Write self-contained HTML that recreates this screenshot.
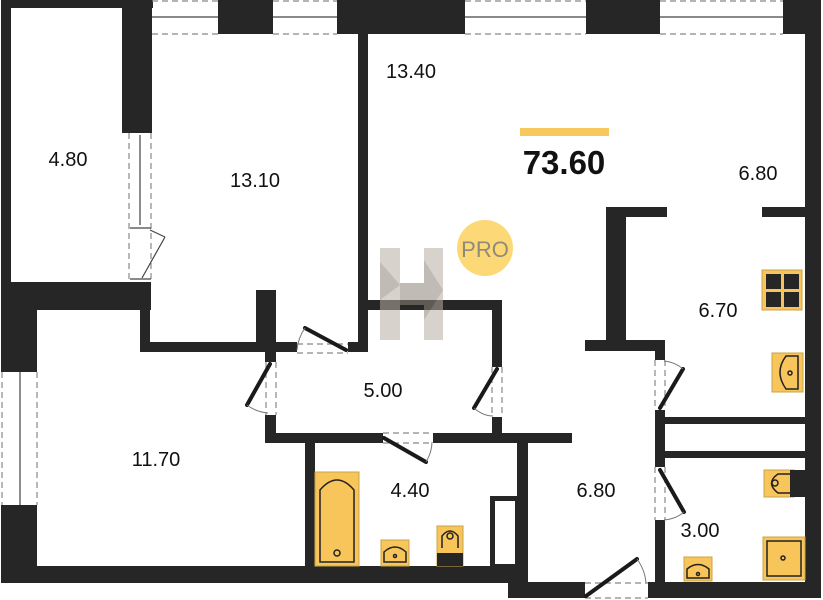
<!DOCTYPE html>
<html><head><meta charset="utf-8"><style>
html,body{margin:0;padding:0;background:#fff;width:823px;height:600px;overflow:hidden}
svg{display:block}
text{font-family:"Liberation Sans","DejaVu Sans",sans-serif;fill:#111}
</style></head><body>
<svg width="823" height="600" viewBox="0 0 823 600" xmlns="http://www.w3.org/2000/svg">
<g fill="#262626">
<rect x="1" y="0" width="10" height="300"/>
<rect x="1" y="0" width="152" height="8"/>
<rect x="122" y="0" width="30" height="133"/>
<rect x="1" y="282" width="150" height="28"/>
<rect x="218" y="0" width="55" height="34"/>
<rect x="337" y="0" width="128" height="34"/>
<rect x="586" y="0" width="74" height="34"/>
<rect x="783" y="0" width="38" height="34"/>
<rect x="805" y="0" width="16" height="598"/>
<rect x="358" y="34" width="10" height="318"/>
<rect x="140" y="290" width="10" height="62"/>
<rect x="140" y="342" width="157" height="10"/>
<rect x="256" y="290" width="20" height="55"/>
<rect x="348" y="342" width="20" height="10"/>
<rect x="1" y="290" width="36" height="82"/>
<rect x="1" y="505" width="36" height="78"/>
<rect x="1" y="566" width="519" height="17"/>
<rect x="265" y="352" width="11" height="10"/>
<rect x="265" y="415" width="11" height="28"/>
<rect x="265" y="433" width="118" height="10"/>
<rect x="433" y="433" width="139" height="10"/>
<rect x="368" y="300" width="134" height="10"/>
<rect x="492" y="300" width="10" height="67"/>
<rect x="492" y="417" width="10" height="26"/>
<rect x="305" y="443" width="10" height="123"/>
<rect x="517" y="443" width="11" height="140"/>
<rect x="508" y="582" width="77" height="16"/>
<rect x="648" y="582" width="173" height="16"/>
<rect x="606" y="207" width="61" height="10"/>
<rect x="762" y="207" width="43" height="10"/>
<rect x="606" y="207" width="20" height="135"/>
<rect x="585" y="340" width="80" height="11"/>
<rect x="655" y="340" width="10" height="20"/>
<rect x="655" y="410" width="10" height="57"/>
<rect x="655" y="520" width="10" height="62"/>
<rect x="665" y="417" width="140" height="7"/>
<rect x="665" y="451" width="140" height="7"/>
</g>
<rect x="492.5" y="498.5" width="25" height="68" fill="none" stroke="#262626" stroke-width="5"/>
<g fill="none" stroke="#888" stroke-width="1.2" stroke-dasharray="6,4">
<line x1="152" y1="1" x2="218" y2="1"/><line x1="152" y1="34" x2="218" y2="34"/>
<line x1="273" y1="1" x2="337" y2="1"/><line x1="273" y1="34" x2="337" y2="34"/>
<line x1="465" y1="1" x2="586" y2="1"/><line x1="465" y1="34" x2="586" y2="34"/>
<line x1="660" y1="1" x2="783" y2="1"/><line x1="660" y1="34" x2="783" y2="34"/>
<line x1="129" y1="133" x2="129" y2="282"/><line x1="151" y1="133" x2="151" y2="282"/>
<line x1="2" y1="372" x2="2" y2="505"/><line x1="37" y1="372" x2="37" y2="505"/>
<line x1="297" y1="344" x2="348" y2="344"/><line x1="297" y1="353" x2="348" y2="353"/>
<line x1="266" y1="362" x2="266" y2="415"/><line x1="276" y1="362" x2="276" y2="415"/>
<line x1="383" y1="433" x2="433" y2="433"/><line x1="383" y1="443" x2="433" y2="443"/>
<line x1="492" y1="367" x2="492" y2="417"/><line x1="502" y1="367" x2="502" y2="417"/>
<line x1="655" y1="360" x2="655" y2="410"/><line x1="665" y1="360" x2="665" y2="410"/>
<line x1="655" y1="467" x2="655" y2="520"/><line x1="665" y1="467" x2="665" y2="520"/>
<line x1="585" y1="583" x2="648" y2="583"/><line x1="585" y1="598" x2="648" y2="598"/>
</g>
<g stroke="#444" stroke-width="1.2">
<line x1="152" y1="17" x2="218" y2="17"/><line x1="273" y1="17" x2="337" y2="17"/>
<line x1="465" y1="17" x2="586" y2="17"/><line x1="660" y1="17" x2="783" y2="17"/>
<line x1="140" y1="135" x2="140" y2="225"/><line x1="20" y1="372" x2="20" y2="505"/>
<line x1="130" y1="228" x2="151" y2="228"/><line x1="130" y1="279" x2="151" y2="279"/>
<line x1="150" y1="230" x2="165" y2="237"/><line x1="165" y1="237" x2="142" y2="278"/>
</g>
<g stroke="#1a1a1a" stroke-width="4" stroke-linecap="round">
<line x1="346" y1="350" x2="305" y2="328"/>
<line x1="270" y1="364" x2="247" y2="405"/>
<line x1="384" y1="438" x2="426" y2="462"/>
<line x1="497" y1="369" x2="474" y2="408"/>
<line x1="660" y1="408" x2="683" y2="369"/>
<line x1="660" y1="470" x2="684" y2="512"/>
<line x1="586" y1="596" x2="637" y2="559"/>
</g>
<g fill="none" stroke="#777" stroke-width="1">
<path d="M305 328 Q298 338 297 350"/>
<path d="M247 405 Q256 412 268 413"/>
<path d="M426 462 Q432 452 432 442"/>
<path d="M474 408 Q483 416 493 416"/>
<path d="M683 369 Q675 362 664 361"/>
<path d="M684 512 Q676 519 664 520"/>
<path d="M637 559 Q645 570 646 583"/>
</g>
<g fill="#f8c55a" stroke="#c9a44a" stroke-width="1">
<rect x="315" y="472" width="44" height="94"/>
<rect x="381" y="540" width="28" height="26"/>
<rect x="437" y="526" width="26" height="40"/>
<rect x="762" y="270" width="40" height="40"/>
<rect x="772" y="353" width="31" height="39"/>
<rect x="764" y="470" width="30" height="27"/>
<rect x="763" y="537" width="42" height="43"/>
<rect x="684" y="557" width="28" height="24"/>
</g>
<g fill="none" stroke="#222" stroke-width="1.5">
<path d="M320 562 V490 Q337 470 354 490 V562 Z"/>
<circle cx="337" cy="553" r="3"/>
<path d="M384 562 V552 Q395 542 406 552 V562 Z"/><circle cx="395" cy="556" r="1.5"/>
<path d="M442 548 V536 Q450 526 458 536 V548"/><circle cx="450" cy="536" r="3"/>
<path d="M798 356 H786 Q774 372 786 389 H798 Z"/><circle cx="790" cy="373" r="2"/>
<path d="M790 474 H778 Q765 483 778 493 H790"/><circle cx="775" cy="483" r="3"/>
<rect x="767" y="541" width="34" height="35"/><circle cx="783" cy="558" r="2"/>
<path d="M687 578 V569 Q698 560 709 569 V578 Z"/><circle cx="698" cy="574" r="1.5"/>
</g>
<g fill="#262626">
<rect x="437" y="553" width="26" height="13"/>
<rect x="790" y="470" width="15" height="27"/>
<rect x="766" y="274" width="15" height="15"/><rect x="784" y="274" width="15" height="15"/>
<rect x="766" y="292" width="15" height="15"/><rect x="784" y="292" width="15" height="15"/>
</g>
<g opacity="0.55">
<rect x="380" y="248" width="20" height="92" fill="#b8aea3"/>
<rect x="424" y="248" width="19" height="92" fill="#b8aea3"/>
<rect x="400" y="283" width="24" height="22" fill="#8f857a"/>
<polygon points="380,262 400,285 380,300" fill="#8f857a"/>
<polygon points="424,260 443,290 424,320" fill="#8f857a"/>
</g>
<circle cx="485" cy="248" r="28" fill="#fcd877"/>
<text x="485" y="257" font-size="22" text-anchor="middle" style="fill:#8f8a7a">PRO</text>
<rect x="520" y="128" width="89" height="8" fill="#f7c85c"/>
<text x="564" y="174" font-size="33" font-weight="bold" text-anchor="middle">73.60</text>
<g font-size="20" text-anchor="middle">
<text x="68" y="166">4.80</text>
<text x="255" y="187">13.10</text>
<text x="411" y="78">13.40</text>
<text x="758" y="180">6.80</text>
<text x="718" y="317">6.70</text>
<text x="383" y="397">5.00</text>
<text x="156" y="466">11.70</text>
<text x="410" y="497">4.40</text>
<text x="596" y="497">6.80</text>
<text x="700" y="537">3.00</text>
</g>
</svg>
</body></html>
